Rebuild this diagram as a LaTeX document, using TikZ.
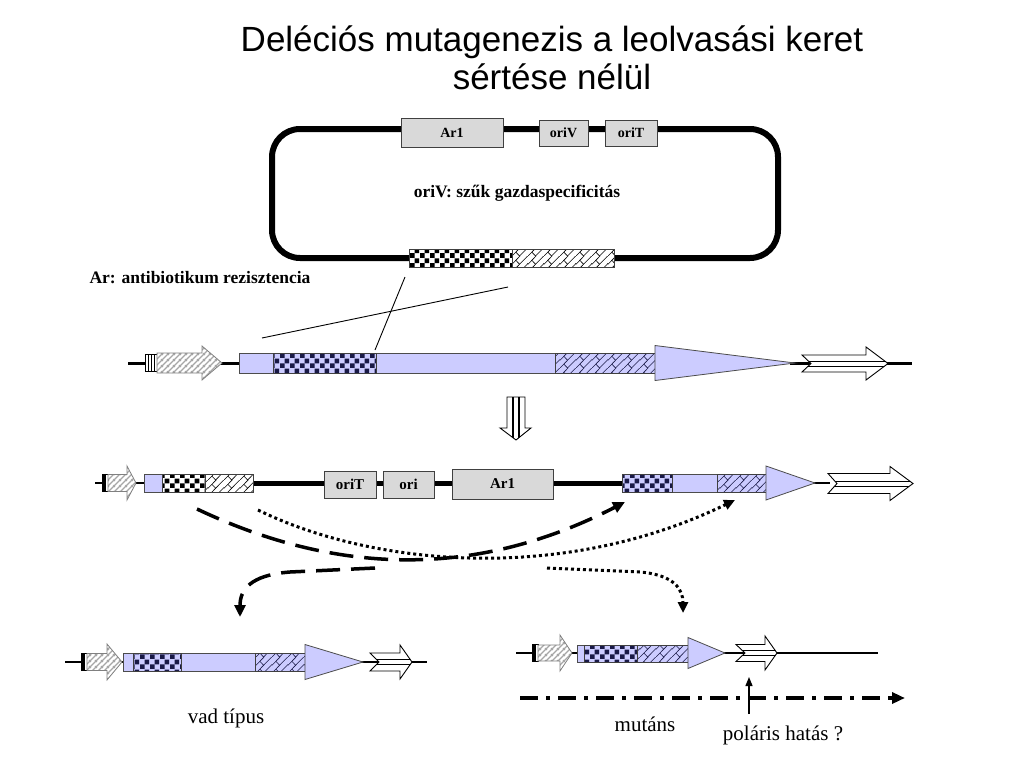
\documentclass[tikz,border=0pt]{standalone}
\usepackage{fontspec}
\setmainfont{Liberation Serif}
\newfontfamily\titlefont{Liberation Sans}
\usetikzlibrary{patterns.meta,arrows.meta}

\definecolor{lavbar}{RGB}{204,204,255}
\definecolor{boxgray}{RGB}{217,217,217}
\definecolor{navy}{RGB}{25,25,70}

\tikzdeclarepattern{
  name=checks, type=uncolored,
  bounding box={(0pt,0pt) and (10pt,10pt)},
  tile size={(10pt,10pt)},
  code={
    \fill (0pt,0pt) rectangle (5pt,5pt);
    \fill (5pt,5pt) rectangle (10pt,10pt);
  }
}
\tikzdeclarepattern{
  name=bricks, type=uncolored,
  bounding box={(0pt,0pt) and (16pt,16pt)},
  tile size={(16pt,16pt)},
  code={
    \draw[line width=0.6pt] (-1pt,-1pt) -- (17pt,17pt);
    \draw[line width=0.6pt] (7pt,-1pt) -- (17pt,9pt);
    \draw[line width=0.6pt] (-1pt,7pt) -- (9pt,17pt);
    \draw[line width=0.6pt] (4pt,4pt) -- (8pt,0pt);
    \draw[line width=0.6pt] (4pt,12pt) -- (8pt,8pt);
  }
}
\tikzdeclarepattern{
  name=stripes, type=uncolored,
  bounding box={(0pt,0pt) and (6pt,6pt)},
  tile size={(6pt,6pt)},
  code={
    \draw[line width=1.3pt] (-1pt,-1pt) -- (7pt,7pt);
    \draw[line width=1.3pt] (5pt,-1pt) -- (7pt,1pt);
    \draw[line width=1.3pt] (-1pt,5pt) -- (1pt,7pt);
  }
}

% tail x, neck x, tip x, y, body half, head half
\newcommand{\hollowarrow}[6]{%
  \fill[white] (#1,#4-#5) -- (#2,#4-#5) -- (#2,#4-#6) -- (#3,#4) -- (#2,#4+#6) -- (#2,#4+#5) -- (#1,#4+#5) -- (#1+9,#4) -- cycle;
  \begin{scope}
    \clip (#1,#4-#5) -- (#2,#4-#5) -- (#2,#4-#6) -- (#3,#4) -- (#2,#4+#6) -- (#2,#4+#5) -- (#1,#4+#5) -- (#1+9,#4) -- cycle;
    \draw[line width=0.7pt] (#1,#4-2.5) -- (#3,#4-2.5) (#1,#4+2.5) -- (#3,#4+2.5);
  \end{scope}
  \draw[line width=0.9pt, line join=miter] (#1,#4-#5) -- (#2,#4-#5) -- (#2,#4-#6) -- (#3,#4) -- (#2,#4+#6) -- (#2,#4+#5) -- (#1,#4+#5) -- (#1+9,#4) -- cycle;
}
\newcommand{\promarrow}[6]{%
  \draw[draw=gray, line width=0.8pt, preaction={fill=white}, pattern=stripes, pattern color=gray!70] (#1,#4-#5) -- (#2,#4-#5) -- (#2,#4-#6) -- (#3,#4) -- (#2,#4+#6) -- (#2,#4+#5) -- (#1,#4+#5) -- cycle;
}
% base x, tip x, y, half height
\newcommand{\genetip}[4]{%
  \filldraw[fill=lavbar, draw=black!70, line width=0.8pt] (#1,#3-#4) -- (#2,#3) -- (#1,#3+#4) -- cycle;
}
% x, y, half height, colour of first bar
\newcommand{\termmark}[4]{%
  \draw[line width=0.8pt, fill=#4] (#1,#2-#3) rectangle (#1+3,#2+#3);
  \draw[line width=0.8pt, fill=white] (#1+3,#2-#3) rectangle (#1+6,#2+#3);
}

\tikzset{
  dnathick/.style={line width=3pt},
  dnabold/.style={line width=5pt},
  dnathin/.style={line width=1.8pt},
  segbox/.style={draw=black!75, line width=0.8pt},
  genebox/.style={draw=black!75, fill=boxgray, line width=0.8pt, inner sep=0pt, font=\fontsize{14}{16}\selectfont\bfseries},
  crossline/.style={line width=0.9pt},
  longdash/.style={line width=3.5pt, dash pattern=on 24pt off 11pt, -{Triangle[length=12pt,width=11pt]}},
  dotpath/.style={line width=3pt, dash pattern=on 3pt off 3pt, -{Triangle[length=11pt,width=10pt]}},
  label/.style={font=\fontsize{17.5}{20}\selectfont\bfseries},
  caption/.style={font=\fontsize{21}{24}\selectfont}
}

\begin{document}
\begin{tikzpicture}[x=1pt, y=-1pt]
\useasboundingbox (0,0) rectangle (1024,768);

\node[font=\titlefont\fontsize{35}{38}\selectfont, align=center] (title) at (552,58) {Deléciós mutagenezis a leolvasási keret\\sértése nélül};

% plasmid
\draw[line width=6pt, rounded corners=28pt] (272,129) rectangle (778,258);
\node[genebox, minimum width=102pt, minimum height=29pt] (plAr) at (452,132.5) {Ar1};
\node[genebox, minimum width=49pt, minimum height=26pt] (plV) at (563.5,133) {oriV};
\node[genebox, minimum width=52pt, minimum height=26pt] (plT) at (631,133) {oriT};
\node[label] (hostnote) at (517,193) {oriV: szűk gazdaspecificitás};
\draw[segbox, preaction={fill=white}, pattern=checks] (409,249) rectangle (512,267);
\draw[segbox, preaction={fill=white}, pattern=bricks] (512,249) rectangle (614,267);
\node[label, anchor=west] (arnote) at (86,278) {Ar: antibiotikum rezisztencia};

% crossing-over
\coordinate (crA1) at (405,277);
\coordinate (crA2) at (375,350);
\coordinate (crB1) at (508,287);
\coordinate (crB2) at (262,338);
\draw[crossline] (crA1) -- (crA2);
\draw[crossline] (crB1) -- (crB2);

% chromosome
\draw[dnathick] (128,363) -- (239,363);
\draw[dnathick] (790,363) -- (912,363);
\termmark{145}{363}{8.5}{white}
\termmark{151}{363}{8.5}{white}
\promarrow{157}{202}{222}{363}{10}{17}
\filldraw[fill=lavbar, draw=black!70, line width=0.8pt] (239,353) rectangle (655,373);
\draw[segbox, preaction={fill=lavbar}, pattern=checks, pattern color=navy] (273,353) rectangle (376,373);
\draw[segbox, preaction={fill=lavbar}, pattern=bricks, pattern color=navy] (555,353) rectangle (655,373);
\genetip{655}{795}{363}{17.5}
\hollowarrow{802}{866}{888}{363.5}{8.5}{16.5}

% integration arrow
\draw[line width=0.9pt, fill=white] (507,397) -- (525,397) -- (525,428) -- (531,428) -- (516,440) -- (500,428) -- (507,428) -- cycle;
\begin{scope}
  \clip (507,397) -- (525,397) -- (525,428) -- (531,428) -- (516,440) -- (500,428) -- (507,428) -- cycle;
  \draw[line width=1.6pt] (513,397) -- (513,440) (519,397) -- (519,440);
\end{scope}

% cointegrate
\draw[dnathin] (95,483) -- (145,483);
\draw[dnabold] (253,483) -- (622,483);
\draw[dnathin] (812,483) -- (830,483);
\termmark{102}{483}{8.5}{black}
\promarrow{108}{127}{136}{483}{8.5}{17}
\filldraw[fill=lavbar, draw=black!70, line width=0.8pt] (144,474) rectangle (162,492);
\draw[segbox, preaction={fill=white}, pattern=checks] (162,474) rectangle (205,492);
\draw[segbox, preaction={fill=white}, pattern=bricks] (205,474) rectangle (253,492);
\node[genebox, minimum width=52pt, minimum height=27pt, font=\fontsize{15}{17}\selectfont\bfseries] (coT) at (350,484.5) {oriT};
\node[genebox, minimum width=51pt, minimum height=27pt, font=\fontsize{15}{17}\selectfont\bfseries] (coO) at (408.5,484.5) {ori};
\node[genebox, minimum width=101pt, minimum height=30pt, font=\fontsize{15}{17}\selectfont\bfseries] (coAr) at (502.5,484) {Ar1};
\filldraw[fill=lavbar, draw=black!70, line width=0.8pt] (622,474) rectangle (766,492);
\draw[segbox, preaction={fill=lavbar}, pattern=checks, pattern color=navy] (622,474) rectangle (672,492);
\draw[segbox, preaction={fill=lavbar}, pattern=bricks, pattern color=navy] (717,474) rectangle (766,492);
\genetip{766}{815}{483}{17}
\hollowarrow{828}{890}{913}{483.5}{10}{17}

% resolution paths
\coordinate (dashA) at (197,509);
\coordinate (dashB) at (625,502);
\coordinate (dotA) at (258,510);
\coordinate (dotB) at (735,500);
\coordinate (dashC) at (375,568);
\coordinate (dashD) at (240,617);
\coordinate (dotC) at (547,568);
\coordinate (dotD) at (683,613);
\draw[longdash] (dashA) .. controls (330,572) and (470,582) .. (dashB);
\draw[dotpath] (dotA) .. controls (370,565) and (560,585) .. (dotB);
\draw[longdash] (dashC) -- (290,572) .. controls (250,575) and (240,590) .. (dashD);
\draw[dotpath] (dotC) -- (640,572) .. controls (675,575) and (683,590) .. (dotD);

% wild type
\draw[dnathin] (65,662) -- (427,662);
\termmark{81}{662}{8.5}{black}
\promarrow{87}{107}{122}{662}{8.5}{18}
\filldraw[fill=lavbar, draw=black!70, line width=0.8pt] (123,653) rectangle (305,671);
\draw[segbox, preaction={fill=lavbar}, pattern=checks, pattern color=navy] (133,653) rectangle (181,671);
\draw[segbox, preaction={fill=lavbar}, pattern=bricks, pattern color=navy] (255,653) rectangle (305,671);
\genetip{305}{363}{662}{17.5}
\hollowarrow{370}{400}{412}{662}{9}{17}
\node[caption] (wt) at (226,718) {vad típus};

% mutant
\draw[dnathin] (516,653) -- (878,653);
\termmark{532}{653}{8.5}{black}
\promarrow{538}{560}{572}{653}{8}{18}
\filldraw[fill=lavbar, draw=black!70, line width=0.8pt] (577,645) rectangle (688,662);
\draw[segbox, preaction={fill=lavbar}, pattern=checks, pattern color=navy] (584,645) rectangle (637,662);
\draw[segbox, preaction={fill=lavbar}, pattern=bricks, pattern color=navy] (637,645) rectangle (688,662);
\genetip{688}{725}{653}{15.5}
\hollowarrow{736}{765}{777}{653}{8.5}{17}
\coordinate (readA) at (520,698);
\coordinate (readB) at (905,698);
\draw[line width=3.5pt, dash pattern=on 18pt off 8pt on 4pt off 8pt, -{Triangle[length=13pt,width=11pt]}] (readA) -- (readB);
\coordinate (polA) at (749,714);
\coordinate (polB) at (749,677);
\draw[line width=1.3pt, -{Triangle[length=9pt,width=7pt]}] (polA) -- (polB);
\node[caption] (mut) at (645,724) {mutáns};
\node[caption] (polar) at (783,735) {poláris hatás ?};
\end{tikzpicture}
\end{document}
